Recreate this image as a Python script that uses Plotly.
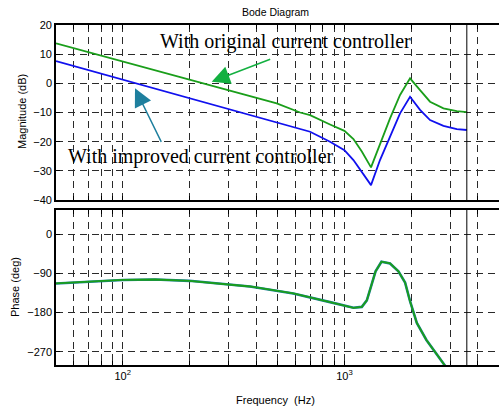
import plotly.graph_objects as go
import numpy as np

# ---------------- data ----------------
f_orig = [50, 100, 200, 375, 495, 631, 700, 861, 1000, 1098, 1198, 1318,
          1447, 1606, 1782, 1977, 2193, 2433, 2797, 3213, 3565]
mag_orig = [13.7, 7.4, 1.1, -4.6, -6.9, -10.0, -10.9, -14.1, -16.3, -19.1, -23.4, -28.8,
            -20.6, -12.0, -4.0, 1.7, -2.3, -6.3, -8.6, -9.5, -9.9]

f_impr = [50, 100, 147, 294, 375, 495, 700, 861, 1000, 1098, 1198, 1318,
          1447, 1606, 1782, 1977, 2193, 2433, 2797, 3213, 3565]
mag_impr = [7.6, 1.3, -2.3, -8.6, -10.9, -13.2, -16.6, -20.0, -22.9, -26.3, -30.3, -34.9,
            -26.3, -18.5, -10.3, -4.6, -9.1, -12.6, -14.6, -15.7, -16.0]

f_phase = [50, 100, 140, 200, 375, 588, 861, 995, 1098, 1198, 1262, 1327, 1382,
           1469, 1606, 1752, 1878, 1977, 2121, 2343, 2590, 2850]
phase = [-113, -105, -104, -107, -120, -136, -156, -163, -169, -167, -152, -115, -85,
         -63, -67, -85, -111, -154, -204, -243, -274, -303]

nyquist_hz = 3565
mag_ticks = [20, 10, 0, -10, -20, -30, -40]
phase_ticks = [0, -90, -180, -270]
freq_grid = [k * d for d in (10, 100, 1000) for k in range(1, 10) if 50 <= k * d <= 5000]
freq_labels = {100: "10<sup>2</sup>", 1000: "10<sup>3</sup>"}

GREEN = "#1a9e1a"
BLUE = "#1010ee"
TEAL = "#1e7f9e"
W, H = 499, 412

fig = go.Figure()
fig.add_trace(go.Scatter(x=f_impr, y=mag_impr, mode="lines",
                         line=dict(color=BLUE, width=1.8), xaxis="x", yaxis="y"))
fig.add_trace(go.Scatter(x=f_orig, y=mag_orig, mode="lines",
                         line=dict(color=GREEN, width=1.8), xaxis="x", yaxis="y"))
fig.add_trace(go.Scatter(x=f_phase, y=phase, mode="lines",
                         line=dict(color=TEAL, width=2.6), xaxis="x2", yaxis="y2"))
fig.add_trace(go.Scatter(x=f_phase, y=phase, mode="lines",
                         line=dict(color=GREEN, width=1.8), xaxis="x2", yaxis="y2"))

grid = dict(showgrid=True, gridcolor="#2a2a2a", gridwidth=1, griddash="7px,5px")
tickfont = dict(family="Liberation Sans, Arial", size=11, color="black")
xrange = [np.log10(50), np.log10(4980)]
xdom = [56 / W, 1.0]

common_x = dict(type="log", range=xrange, domain=xdom, tickvals=freq_grid,
                ticks="inside", ticklen=4, tickcolor="black", showline=True,
                linecolor="black", linewidth=1.6, mirror="allticks", zeroline=False,
                automargin=False, tickfont=tickfont, **grid)
common_y = dict(ticks="inside", ticklen=4, tickcolor="black", showline=True,
                linecolor="black", linewidth=1.6, zeroline=False, automargin=False,
                tickfont=tickfont, **grid)

fig.update_layout(
    width=W, height=H, margin=dict(l=0, r=0, t=0, b=0, pad=0, autoexpand=False),
    paper_bgcolor="white", plot_bgcolor="white", showlegend=False,
    xaxis=dict(anchor="y", showticklabels=False, **common_x),
    xaxis2=dict(anchor="y2", matches="x",
                ticktext=[freq_labels.get(v, "") for v in freq_grid],
                **common_x),
    yaxis=dict(domain=[1 - 200 / H, 1 - 25 / H], range=[-40, 20], tickvals=mag_ticks,
               anchor="x", **common_y),
    yaxis2=dict(domain=[1 - 365 / H, 1 - 210 / H], range=[-300.6, 55.9],
                tickvals=phase_ticks, anchor="x2", **common_y),
)

# Nyquist line in both panes
for xr, yr in (("x", "y domain"), ("x2", "y2 domain")):
    fig.add_shape(type="line", xref=xr, yref=yr, x0=nyquist_hz, x1=nyquist_hz, y0=0, y1=1,
                  line=dict(color="black", width=1))

lab = dict(family="Liberation Sans, Arial", size=11, color="black")
serif = dict(family="Liberation Serif, Times New Roman", size=20, color="black")
txt = dict(xref="paper", yref="paper", showarrow=False, xanchor="center", yanchor="middle")
fig.add_annotation(text="Bode Diagram", x=275 / W, y=1 - 12 / H,
                   font=dict(family="Liberation Sans, Arial", size=10.5, color="black"), **txt)
fig.add_annotation(text="Frequency\u00a0 (Hz)", x=275 / W, y=1 - 400 / H, font=lab, **txt)
fig.add_annotation(text="Magnitude (dB)", x=22 / W, y=1 - 112 / H, textangle=-90,
                   font=lab, **txt)
fig.add_annotation(text="Phase (deg)", x=15 / W, y=1 - 287 / H, textangle=-90,
                   font=lab, **txt)

fig.add_annotation(text="With original current controller", x=285 / W, y=1 - 42 / H,
                   font=serif, **txt)
fig.add_annotation(text="With improved current controller", x=201 / W, y=1 - 157 / H,
                   font=serif, **txt)

fig.add_annotation(text="", x=211.7 / W, y=1 - 81.7 / H, xref="paper", yref="paper",
                   ax=60, ay=-23, showarrow=True, arrowhead=2, arrowsize=2.4,
                   arrowwidth=1.5, arrowcolor="#13b040")
fig.add_annotation(text="", x=135 / W, y=1 - 88.3 / H, xref="paper", yref="paper",
                   ax=27, ay=55, showarrow=True, arrowhead=2, arrowsize=2.4,
                   arrowwidth=1.5, arrowcolor=TEAL)

fig.write_html("out.html")
